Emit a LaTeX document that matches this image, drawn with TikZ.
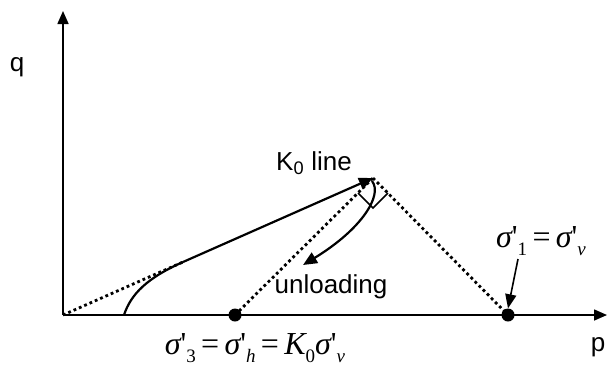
\documentclass[tikz,border=0pt]{standalone}
\usepackage{fontspec}
\setmainfont{Liberation Sans}
\newfontfamily\tms{Liberation Serif}
\usetikzlibrary{arrows.meta}
\newcommand{\lowsub}[1]{\raisebox{-0.25em}{\fontsize{19}{19}\selectfont #1}}
\newcommand{\sgm}{{\itshape σ}}
\tikzset{
  axis/.style={line width=1.6pt,-{Triangle[length=13pt,width=11pt]}},
  kline/.style={line width=2.2pt},
  dotln/.style={line width=2.8pt,dash pattern=on 2.8pt off 3pt},
  ptdot/.style={circle,fill=black,inner sep=0pt,minimum size=13pt},
  lbl/.style={font=\fontsize{26}{30}\selectfont,inner sep=0pt},
  mlbl/.style={font=\tms\fontsize{32}{36}\selectfont,inner sep=0pt},
  tip/.style={-{Triangle[length=14pt,width=12pt]}}
}
\begin{document}
\begin{tikzpicture}[x=1pt,y=-1pt]
\useasboundingbox (0,0) rectangle (607,365);
% axes
\coordinate (O) at (63,315);
\coordinate (ytop) at (63,11);
\coordinate (xend) at (607,315);
\draw[axis] (O) -- (ytop);
\draw[axis] (O) -- (xend);
% points
\node[ptdot] (A) at (235,315) {};
\node[ptdot] (B) at (508,315) {};
\coordinate (P) at (373,178);
\coordinate (J) at (183,262);
\coordinate (C) at (124,315);
% dotted lines
\draw[dotln] (O) -- (J);
\draw[dotln] (A.center) -- (P);
\draw[dotln] (P) -- (B.center);
% K0 line
\draw[kline,tip] (J) -- (P);
\draw[kline] (C) .. controls (131,294) and (147,278) .. (J);
% right angle marker
\coordinate (R1) at (358,193);
\coordinate (R2) at (373,208);
\coordinate (R3) at (388,193);
\draw[line width=1.6pt] (R1) -- (R2) -- (R3);
% unloading arrow
\coordinate (U0) at (372,181);
\coordinate (U1) at (303,265);
\draw[kline,tip] (U0) .. controls (383,195) and (362,229) .. (U1);
% sigma1 arrow
\coordinate (S1) at (518,259);
\draw[line width=1.6pt,-{Triangle[length=14pt,width=11pt]}] (S1) -- (B.north);
% labels
\node[lbl] (q) at (17,67) {q};
\node[lbl] (p) at (598,347) {p};
\node[lbl] (k0) at (314,163) {K\textsubscript{0} line};
\node[lbl] (unl) at (331,287) {unloading};
\node[mlbl,anchor=base] (s3) at (255,354) {\sgm'\lowsub{3}\,=\,\sgm'\lowsub{\itshape h}\,=\,{\itshape K}\lowsub{0}\sgm'\lowsub{\itshape v}};
\node[mlbl,anchor=base] (s1) at (541,247) {\sgm'\lowsub{1}\,=\,\sgm'\lowsub{\itshape v}};
\end{tikzpicture}
\end{document}
